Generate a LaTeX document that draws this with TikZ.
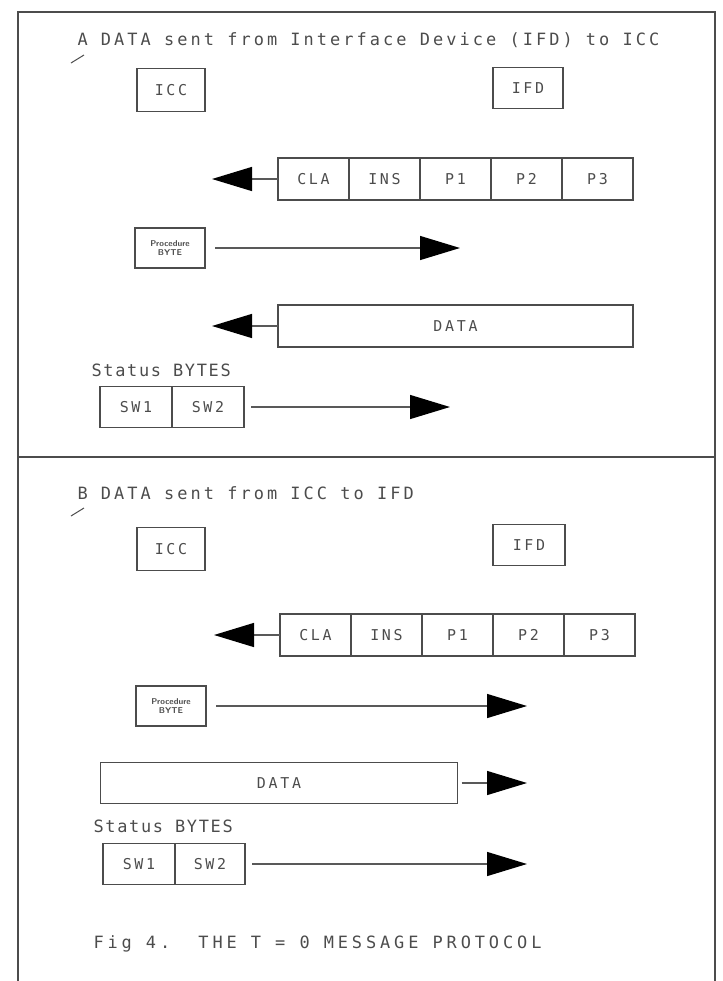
\documentclass[tikz,border=0pt]{standalone}
\usepackage{fontspec}
\usepackage{tikz}
\usetikzlibrary{arrows.meta,positioning}
\newfontfamily\plotfont[LetterSpace=18]{DejaVu Sans Mono}
\newfontfamily\statfont[LetterSpace=10]{DejaVu Sans Mono}
\newfontfamily\capfont[LetterSpace=23]{DejaVu Sans Mono}

\begin{document}
\begin{tikzpicture}[x=1bp, y=-1bp, >={Triangle[length=40bp,width=24bp,color=black]}]
    \tikzset{
      plot/.style={font=\fontsize{17}{19}\plotfont, text=black!70},
      box/.style={draw=black!70, line width=1.3bp, inner sep=0pt, outer sep=0pt,
                  font=\fontsize{15}{17}\plotfont, text=black!70},
      cell/.style={box, minimum width=71bp, minimum height=42bp},
      dev/.style={box, minimum width=68bp, minimum height=43bp},
      proc/.style={box, minimum width=70bp, minimum height=40bp, font=\fontsize{8.5}{9}\selectfont\sffamily\bfseries, align=center},
      swcell/.style={box, minimum width=72bp, minimum height=41bp},
      sig/.style={draw=black!65, line width=1.3bp, ->},
      frame/.style={draw=black!70, line width=2bp}
    }
    \useasboundingbox (0,0) rectangle (723,981);
    % frame and divider
    \draw[frame] (18,981) -- (18,12) -- (715,12) -- (715,981);
    \draw[frame] (18,457) -- (715,457);

    % A: IFD to ICC
    \node[plot, anchor=base west] (titleA) at (74,45) {A DATA sent from Interface Device (IFD) to ICC};
    \draw[black!70, line width=1bp] (71,63) -- (84,55);
    \node[dev] (iccA) at (171,90) {ICC};
    \node[dev, minimum width=70bp, minimum height=41bp] (ifdA) at (528,88) {IFD};

    \node[cell, anchor=west] (claA) at (278,179) {CLA};
    \node[cell, right=0pt of claA] (insA) {INS};
    \node[cell, right=0pt of insA] (p1A) {P1};
    \node[cell, right=0pt of p1A] (p2A) {P2};
    \node[cell, right=0pt of p2A] (p3A) {P3};
    \coordinate (claAend) at (212,179);
    \draw[sig] (claA.west) -- (claAend);

    \node[proc] (procA) at (170,248) {Procedure\\BYTE};
    \coordinate (procAend) at (460,248);
    \draw[sig, shorten <=10bp] (procA.east) -- (procAend);

    \node[box, minimum width=355bp, minimum height=42bp] (dataA) at (455.5,326) {DATA};
    \coordinate (dataAend) at (212,326);
    \draw[sig] (dataA.west) -- (dataAend);

    \node[font=\fontsize{17}{19}\statfont, text=black!70, anchor=base west] (statA) at (88,376) {Status BYTES};
    \node[swcell, anchor=west] (sw1A) at (100,407) {SW1};
    \node[swcell, right=0pt of sw1A] (sw2A) {SW2};
    \coordinate (swAend) at (450,407);
    \draw[sig, shorten <=7bp] (sw2A.east) -- (swAend);

    % B: ICC to IFD
    \node[plot, anchor=base west] (titleB) at (74,499) {B DATA sent from ICC to IFD};
    \draw[black!70, line width=1bp] (71,516) -- (84,508);
    \node[dev] (iccB) at (171,549) {ICC};
    \node[dev, minimum width=72bp, minimum height=41bp] (ifdB) at (529,545) {IFD};

    \node[cell, anchor=west] (claB) at (280,635) {CLA};
    \node[cell, right=0pt of claB] (insB) {INS};
    \node[cell, right=0pt of insB] (p1B) {P1};
    \node[cell, right=0pt of p1B] (p2B) {P2};
    \node[cell, right=0pt of p2B] (p3B) {P3};
    \coordinate (claBend) at (214,635);
    \draw[sig] (claB.west) -- (claBend);

    \node[proc] (procB) at (171,706) {Procedure\\BYTE};
    \coordinate (procBend) at (527,706);
    \draw[sig, shorten <=10bp] (procB.east) -- (procBend);

    \node[box, minimum width=357bp, minimum height=41bp] (dataB) at (279,783) {DATA};
    \coordinate (dataBend) at (527,783);
    \draw[sig, shorten <=4bp] (dataB.east) -- (dataBend);

    \node[font=\fontsize{17}{19}\statfont, text=black!70, anchor=base west] (statB) at (90,832) {Status BYTES};
    \node[swcell, anchor=west] (sw1B) at (103,864) {SW1};
    \node[swcell, minimum width=70bp, right=0pt of sw1B] (sw2B) {SW2};
    \coordinate (swBend) at (527,864);
    \draw[sig, shorten <=7bp] (sw2B.east) -- (swBend);

    \node[font=\fontsize{17}{19}\capfont, text=black!70, anchor=base west] (caption) at (90,948)
      {Fig 4.\ \ THE T = 0 MESSAGE PROTOCOL};
\end{tikzpicture}
\end{document}
